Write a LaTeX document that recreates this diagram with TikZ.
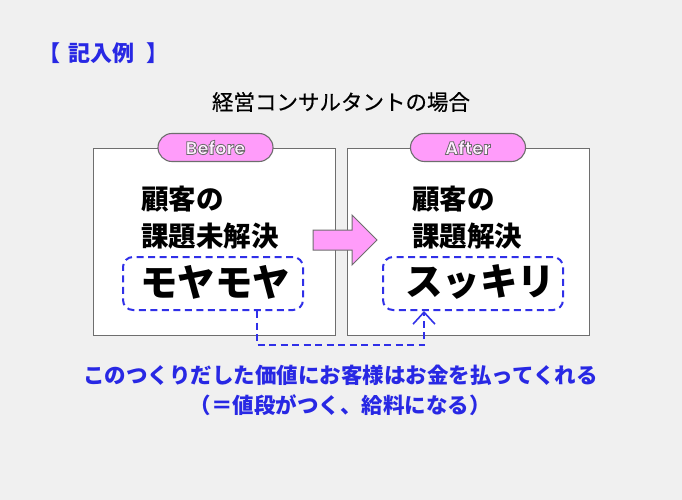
\documentclass[tikz,border=0pt]{standalone}
\usepackage{fontspec}
\usetikzlibrary{arrows.meta}
\newfontfamily\jp{Noto Sans CJK JP}
\newfontfamily\jpm[FakeBold=0.35]{Noto Sans CJK JP}
\newfontfamily\pop{Poppins}
\definecolor{bgc}{RGB}{240,240,240}
\definecolor{myblue}{RGB}{40,40,228}
\definecolor{dblue}{RGB}{48,48,232}
\definecolor{pinkf}{RGB}{255,156,250}
\definecolor{edgeg}{RGB}{110,110,110}
\newcommand{\outl}[1]{\special{pdf:code q 2 Tr 0.8 w 0.42 0.42 0.42 RG 1 0.93 1 rg}#1\special{pdf:code Q}}
\tikzset{
  panel/.style={draw=edgeg, fill=white, line width=1.1pt, minimum width=242pt, minimum height=187pt, inner sep=0pt, anchor=north west},
  pill/.style={draw=edgeg, fill=pinkf, line width=1.1pt, rounded corners=14pt, minimum width=115pt, minimum height=28pt, inner sep=0pt, font=\pop\bfseries\fontsize{18}{20}\selectfont},
  dbox/.style={draw=dblue, line width=2pt, dash pattern=on 7pt off 4.5pt, rounded corners=10pt, minimum width=180pt, minimum height=53pt, inner sep=0pt},
  conn/.style={draw=dblue, line width=2pt, dash pattern=on 7pt off 4.5pt},
  mid/.style={font=\jp\bfseries\fontsize{27.5}{30}\selectfont, anchor=west, inner sep=0pt},
  big/.style={font=\jp\bfseries\fontsize{37.5}{42}\selectfont, anchor=west, inner sep=0pt},
  bluetxt/.style={font=\jp\bfseries\fontsize{21.5}{24}\selectfont, text=myblue, inner sep=0pt},
}
\begin{document}
\begin{tikzpicture}[x=1pt,y=-1pt]
\fill[bgc] (0,0) rectangle (682,500);
\useasboundingbox (0,0) rectangle (682,500);
\node[font=\jp\bfseries\fontsize{22}{26}\selectfont, text=myblue, anchor=west, inner sep=0pt] (title) at (38,53) {【\hspace{8pt}記入例\hspace{12pt}】};
\node[font=\jpm\fontsize{21.5}{24}\selectfont, inner sep=0pt] (sub) at (341,102) {経営コンサルタントの場合};
\node[panel] (boxL) at (93,148) {};
\node[panel] (boxR) at (347,148) {};
\node[pill] (before) at (215.5,147.5) {\outl{Before}};
\node[pill] (after) at (468,147.5) {\outl{After}};
\node[mid] (l1) at (141,199) {顧客の};
\node[mid] (l2) at (141,236) {課題未解決};
\node[mid] (r1) at (412,199) {顧客の};
\node[mid] (r2) at (412,236) {課題解決};
\node[dbox] (dashL) at (213,283.5) {};
\node[dbox] (dashR) at (473,283.5) {};
\node[big] (moya) at (140,282) {モヤモヤ};
\node[big] (sukk) at (405,282) {スッキリ};
\draw[draw=edgeg, fill=pinkf, line width=1pt, line join=miter]
  (313,230) -- (352,230) -- (352,215) -- (377,240) -- (352,265) -- (352,250) -- (313,250) -- cycle;
\coordinate (cA) at ([xshift=44pt]dashL.south);
\coordinate (cB) at ([xshift=-49pt]dashR.south);
\draw[conn, -{Straight Barb[length=12pt,width=22pt,line width=1.6pt]}] (cA) -- ++(0,34) -| (cB);
\node[bluetxt] (msg1) at (340.5,375) {このつくりだした価値にお客様はお金を払ってくれる};
\node[bluetxt] (msg2) at (340,405) {（＝値段がつく、給料になる）};
\end{tikzpicture}
\end{document}
